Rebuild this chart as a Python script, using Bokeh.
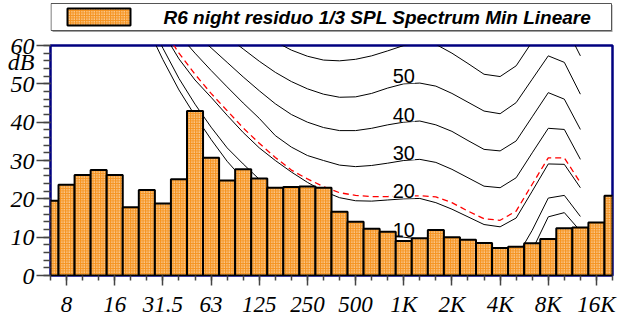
from bokeh.plotting import figure
from bokeh.models import Range1d, FixedTicker, LinearAxis, ColumnDataSource
from bokeh.layouts import column
from bokeh.embed import file_html
from bokeh.resources import INLINE
from bokeh.core.properties import value

# ---------------- data ----------------
bands = ["6.3", "8", "10", "12.5", "16", "20", "25", "31.5", "40", "50", "63", "80",
         "100", "125", "160", "200", "250", "315", "400", "500", "630", "800", "1K",
         "1.25K", "1.6K", "2K", "2.5K", "3.15K", "4K", "5K", "6.3K", "8K", "10K",
         "12.5K", "16K", "20K"]
spl = [19.5, 23.7, 26.2, 27.5, 26.2, 17.8, 22.3, 18.8, 25.1, 42.9, 30.7, 24.8,
       27.7, 25.3, 22.9, 23.1, 23.2, 22.9, 16.6, 14.0, 12.2, 11.4, 9.0,
       9.7, 11.9, 10.0, 9.3, 8.5, 7.2, 7.5, 8.4, 9.5, 12.3,
       12.5, 13.8, 20.8]
tick_bands = ["8", "16", "31.5", "63", "125", "250", "500", "1K", "2K", "4K", "8K", "16K"]
y_ticks = [0, 10, 20, 30, 40, 50, 60]
y_minor = list(range(0, 61, 2))
unit_text = "dB"
unit_pos = 55.6

# equal-loudness contours, 20 Hz .. 12.5 kHz
contour_bands = bands[5:34]
maf = [74.3, 65.0, 56.3, 48.4, 41.7, 35.5, 29.8, 25.1, 20.7, 16.8, 13.8, 11.2, 8.9, 7.2, 6.0,
       5.0, 4.4, 4.2, 3.7, 2.6, 1.0, -1.2, -3.6, -3.9, -1.1, 6.6, 15.3, 16.4, 11.6]
ph10 = [76.8, 67.7, 59.3, 51.4, 44.7, 38.7, 33.3, 29.1, 25.1, 21.5, 18.8, 16.4, 14.3, 12.7, 11.6,
        10.7, 10.2, 10.0, 9.5, 8.4, 6.8, 4.6, 2.2, 1.8, 4.6, 11.8, 20.2, 20.9, 15.4]
ph20 = [80.0, 71.5, 63.5, 56.5, 51.0, 46.5, 41.8, 37.3, 33.3, 30.0, 27.0, 24.3, 22.0, 20.3, 19.5,
        19.4, 19.7, 20.0, 20.1, 19.0, 17.3, 15.3, 13.3, 12.7, 15.0, 22.0, 29.1, 29.0, 22.9]
ph30 = [84.0, 76.5, 69.0, 62.8, 58.0, 53.5, 49.2, 45.0, 41.0, 36.5, 33.5, 31.3, 30.0, 28.8, 28.4,
        28.7, 29.3, 30.0, 30.3, 29.5, 27.7, 25.5, 23.3, 22.9, 25.5, 32.0, 38.4, 38.1, 30.3]
ph40 = [87.0, 79.0, 71.5, 67.0, 63.0, 59.4, 55.6, 51.8, 48.2, 44.8, 42.0, 40.0, 38.6, 37.8, 37.8,
        38.4, 39.3, 40.0, 40.3, 39.3, 37.6, 35.2, 32.9, 32.5, 35.1, 41.4, 47.7, 46.0, 38.1]
ph50 = [90.0, 84.0, 78.5, 74.0, 70.0, 66.0, 62.3, 59.1, 55.9, 53.0, 50.6, 48.7, 47.3, 46.5, 46.6,
        47.5, 48.9, 50.0, 50.2, 49.4, 47.5, 45.2, 42.9, 42.2, 45.1, 51.2, 57.3, 55.6, 47.3]
ph60 = [96.0, 91.0, 86.0, 82.0, 78.0, 74.5, 71.0, 67.5, 64.0, 61.0, 58.8, 57.2, 56.2, 56.0, 56.4,
        57.3, 58.6, 60.0, 60.6, 60.3, 58.0, 55.3, 52.5, 51.9, 54.7, 61.0, 67.3, 65.6, 57.3]
spectrum_contour = [81.0, 72.5, 64.5, 58.0, 52.5, 47.5, 43.0, 38.5, 34.5, 30.8, 27.5, 25.2, 23.2, 21.6, 20.9,
                    20.6, 20.6, 20.7, 20.8, 20.5, 19.0, 16.8, 14.8, 14.4, 16.8, 23.8, 30.7, 30.7, 24.2]
phon_levels = [10, 20, 30, 40, 50, 60]
label_band = "1K"
legend_text = "R6 night residuo 1/3 SPL Spectrum Min Lineare"

# ---------------- styles ----------------
ORANGE = "#F5931F"
NAVY = "#000080"
SERIF = "Liberation Serif"
SANS = "Liberation Sans"
W = 618
BL, BR = 50, 6
LEG_H = 33
LABEL_LIFT_DB = 2.0   # contour labels sit just above their line

x_idx = list(range(len(bands)))
cx = [bands.index(b) for b in contour_bands]

# ---------------- main plot ----------------
p = figure(width=W, height=322 - LEG_H,
           x_range=Range1d(0, len(bands) - 1), y_range=Range1d(0, 60),
           output_backend="svg", toolbar_location=None,
           min_border_left=BL, min_border_right=BR, min_border_top=12, min_border_bottom=47,
           background_fill_color="white", border_fill_color="white")
p.grid.visible = False
p.outline_line_color = NAVY
p.outline_line_width = 2.5

for curve in [maf, ph10, ph20, ph30, ph40, ph50, ph60]:
    p.line(cx, curve, line_color="black", line_width=1)
p.line(cx, spectrum_contour, line_color="red", line_width=1.3, line_dash="6 4")

i_lab = bands.index(label_band)
p.text(x=[i_lab] * len(phon_levels), y=[v + LABEL_LIFT_DB for v in phon_levels],
       text=[str(v) for v in phon_levels],
       text_font=value(SANS), text_font_size="20px", text_color="black",
       text_align="center", text_baseline="middle",
       background_fill_color="white")

src = ColumnDataSource(dict(x=x_idx, top=spl))
p.vbar(x="x", top="top", bottom=0, width=1, source=src,
       fill_color=ORANGE, hatch_pattern="dot", hatch_color="white",
       hatch_scale=2.5, hatch_weight=1, line_color="black", line_width=2)

# x axis
xa = p.xaxis[0]
xa.ticker = FixedTicker(ticks=[bands.index(b) for b in tick_bands], minor_ticks=x_idx)
xa.major_label_overrides = {bands.index(b): b for b in tick_bands}
xa.major_label_text_font = SERIF
xa.major_label_text_font_style = "italic"
xa.major_label_text_font_size = "23px"
xa.major_label_text_color = "black"
xa.major_label_standoff = 6
xa.major_tick_in = 0
xa.minor_tick_in = 0
xa.major_tick_out = 10
xa.minor_tick_out = 5
xa.major_tick_line_color = "#444444"
xa.minor_tick_line_color = "#444444"
xa.major_tick_line_width = 1.5
xa.minor_tick_line_width = 1.5
xa.axis_line_color = "black"

# inner y axis: ticks only
ya = p.yaxis[0]
ya.ticker = FixedTicker(ticks=y_ticks, minor_ticks=y_minor)
ya.major_label_overrides = {v: "" for v in y_ticks}
ya.major_label_standoff = 0
ya.major_tick_in = 0
ya.minor_tick_in = 0
ya.major_tick_out = 14
ya.minor_tick_out = 7
ya.major_tick_line_color = "#444444"
ya.minor_tick_line_color = "#444444"
ya.major_tick_line_width = 1.5
ya.minor_tick_line_width = 1.5
ya.axis_line_color = None

# outer y axis: labels + unit
ya2 = LinearAxis(ticker=FixedTicker(ticks=y_ticks + [unit_pos], minor_ticks=[]),
                 major_label_overrides={unit_pos: unit_text},
                 major_tick_out=0, major_tick_in=0, minor_tick_out=0, minor_tick_in=0,
                 axis_line_color=None, major_label_standoff=2,
                 major_label_text_font=SERIF, major_label_text_font_style="italic",
                 major_label_text_font_size="24px", major_label_text_color="black")
p.add_layout(ya2, "left")

# ---------------- legend strip ----------------
leg = figure(width=W, height=LEG_H, x_range=Range1d(BL, W - BR), y_range=Range1d(LEG_H, 0),
             output_backend="svg", toolbar_location=None,
             min_border_left=BL, min_border_right=BR, min_border_top=0, min_border_bottom=0,
             x_axis_location=None, y_axis_location=None,
             background_fill_color="white", border_fill_color="white")
leg.grid.visible = False
leg.outline_line_color = None
leg.quad(left=[52], right=[613], top=[4.5], bottom=[31.5], fill_color="#a0a0a0", line_color=None)
leg.quad(left=[50.5], right=[611], top=[3], bottom=[30], fill_color="white",
         line_color="#555555", line_width=1)
leg.quad(left=[67], right=[130], top=[8], bottom=[25],
         fill_color=ORANGE, hatch_pattern="dot", hatch_color="white",
         hatch_scale=2.5, hatch_weight=1, line_color="black", line_width=2)
leg.text(x=[163], y=[16.5], text=[legend_text], text_font=value(SANS),
         text_font_style="bold italic", text_font_size="19px", text_color="black",
         text_align="left", text_baseline="middle")

layout = column(leg, p)
open("out.html", "w").write(file_html(layout, INLINE))
